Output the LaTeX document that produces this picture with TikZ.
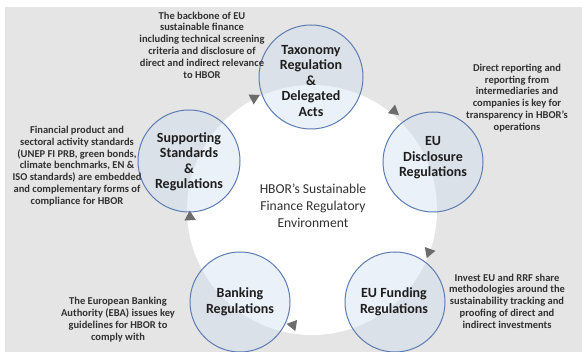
\documentclass[tikz,border=0pt]{standalone}
\usepackage{fontspec}
\setmainfont{Carlito}
\usetikzlibrary{shapes.geometric}
\definecolor{bggray}{RGB}{229,229,229}
\definecolor{cfill}{RGB}{205,220,240}
\definecolor{cborder}{RGB}{92,124,178}
\definecolor{tipgray}{RGB}{108,108,108}
\definecolor{txtdark}{RGB}{30,30,30}
\definecolor{txtmid}{RGB}{50,50,50}
\tikzset{
  smallcirc/.style={circle, draw=cborder, line width=1pt, fill=cfill, fill opacity=0.4, draw opacity=1, inner sep=0pt, minimum size=#1},
  circlabel/.style={align=center, text=txtdark, font=\fontsize{14}{15.5}\selectfont\bfseries, inner sep=0pt},
  desc/.style={align=center, text=txtmid, font=\fontsize{10.5}{11.8}\selectfont\bfseries, inner sep=0pt},
  centertext/.style={align=center, text=txtmid, font=\fontsize{13.6}{17}\selectfont, inner sep=0pt},
  arrowtip/.style={regular polygon, regular polygon sides=3, fill=tipgray, draw=none, inner sep=0pt, minimum size=13pt}
}
\begin{document}
\begin{tikzpicture}[x=1pt,y=1pt]
\useasboundingbox (0,0) rectangle (582,352);
\fill[white] (0,0) rectangle (582,352);
\fill[bggray] (5,0) rectangle (582,345);
% central white circle
\coordinate (ctr) at (312,142);
\fill[white] (ctr) circle[radius=125];
\node[centertext] (ctext) at (313,146) {HBOR’s Sustainable\\Finance Regulatory\\Environment};
% circles
\node[smallcirc=104pt] (tax) at (311,275) {};
\node[smallcirc=100pt] (disc) at (433,190) {};
\node[smallcirc=100pt] (fund) at (395,50) {};
\node[smallcirc=100pt] (bank) at (240,50) {};
\node[smallcirc=102pt] (supp) at (189,191) {};
% circle labels
\node[circlabel] (taxl) at (311,271) {Taxonomy\\Regulation\\\&\\Delegated\\Acts};
\node[circlabel] (discl) at (433,194) {EU\\Disclosure\\Regulations};
\node[circlabel] (fundl) at (394,50) {EU Funding\\Regulations};
\node[circlabel] (bankl) at (240,50) {Banking\\Regulations};
\node[circlabel] (suppl) at (189,190) {Supporting\\Standards\\\&\\Regulations};
% arrow tips (clockwise flow)
\node[arrowtip, rotate=-62.6] (a1) at (254,254) {};
\node[arrowtip, rotate=-129.6] (a2) at (394,241) {};
\node[arrowtip, rotate=160.3] (a3) at (429,100) {};
\node[arrowtip, rotate=80.6] (a4) at (293,27) {};
\node[arrowtip, rotate=3.3] (a5) at (190,135) {};
% descriptions
\node[desc] (dtop) at (202,307) {The backbone of EU\\sustainable finance\\including technical screening\\criteria and disclosure of\\direct and indirect relevance\\to HBOR};
\node[desc] (dleft) at (77,186) {Financial product and\\sectoral activity standards\\(UNEP FI PRB, green bonds,\\climate benchmarks, EN \&\\ISO standards) are embedded\\and complementary forms of\\compliance for HBOR};
\node[desc] (dright) at (517,254) {Direct reporting and\\reporting from\\intermediaries and\\companies is key for\\transparency in HBOR’s\\operations};
\node[desc] (dbl) at (118,32.5) {The European Banking\\Authority (EBA) issues key\\guidelines for HBOR to\\comply with};
\node[desc] (dbr) at (507,51) {Invest EU and RRF share\\methodologies around the\\sustainability tracking and\\proofing of direct and\\indirect investments};
\end{tikzpicture}
\end{document}
